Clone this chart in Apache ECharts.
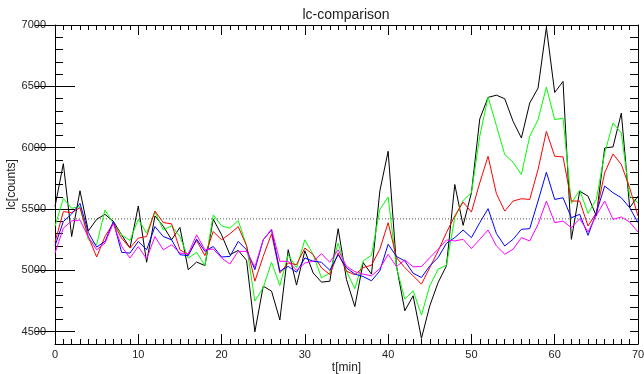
<!DOCTYPE html>
<html><head><meta charset="utf-8">
<script src="https://cdn.jsdelivr.net/npm/echarts@6/dist/echarts.min.js"></script>
<style>html,body{margin:0;padding:0;background:#fff}#c{width:644px;height:374px}</style>
</head><body><div id="c"></div>
<script>
const times = [0,1,2,3,4,5,6,7,8,9,10,11,12,13,14,15,16,17,18,19,20,21,22,23,24,25,26,27,28,29,30,31,32,33,34,35,36,37,38,39,40,41,42,43,44,45,46,47,48,49,50,51,52,53,54,55,56,57,58,59,60,61,62,63,64,65,66,67,68,69,70];
const blackSeries = [5520,5870,5276,5649,5321,5416,5457,5400,5290,5182,5525,5066,5444,5360,5250,5350,5006,5068,5039,5417,5290,5128,5163,5082,4499,4871,4831,4596,5168,4880,5160,4979,4904,4912,5340,4925,4705,5064,4969,5646,5971,5037,4671,4793,4446,4712,4901,5037,5700,5367,5633,6234,6410,6428,6399,6215,6079,6364,6486,6980,6450,6540,5253,5646,5605,5443,5998,6006,6282,5511,5605];
const greenSeries = [5360,5587,5506,5520,5249,5209,5492,5384,5290,5244,5417,5303,5479,5330,5363,5276,5100,5147,5039,5452,5363,5344,5406,5201,4750,4858,5066,4877,5128,5020,5249,5128,4939,4979,5222,4993,4850,5077,5123,5497,5597,5023,4766,4834,4636,4874,5010,5042,5429,5570,5633,6093,6412,6180,5944,5882,5781,6093,6228,6494,6228,6242,5546,5654,5465,5578,5957,6201,6120,5605,5551];
const redSeries = [5230,5479,5471,5511,5276,5109,5276,5384,5263,5182,5263,5276,5484,5390,5379,5168,5128,5244,5120,5317,5249,5298,5357,5201,4912,5114,5298,4979,5060,5047,5182,5128,5020,4966,5141,4993,4965,5023,5042,5172,5389,5104,5023,4956,4888,5023,5159,5308,5443,5557,5475,5714,5930,5625,5483,5565,5584,5578,5822,6133,5930,5925,5565,5565,5362,5470,5795,5949,5863,5673,5443];
const blueSeries = [5200,5398,5460,5546,5309,5190,5236,5398,5147,5141,5236,5168,5357,5276,5249,5128,5120,5255,5155,5195,5109,5114,5236,5168,5006,5249,5330,4993,5033,4985,5101,5074,5066,5001,5128,5020,4970,4950,4915,4996,5213,5113,5077,4977,4942,5037,5104,5221,5267,5329,5267,5389,5503,5300,5199,5253,5335,5340,5565,5800,5578,5592,5429,5457,5286,5470,5687,5633,5592,5511,5389];
const magentaSeries = [5140,5344,5403,5411,5271,5168,5222,5384,5195,5101,5195,5093,5276,5168,5209,5141,5136,5290,5168,5174,5101,5052,5155,5155,5028,5249,5336,5074,5074,5001,5060,5074,5136,5066,5168,5033,4990,4969,4956,5015,5131,5031,5085,5029,5031,5104,5172,5248,5240,5253,5178,5253,5329,5199,5132,5172,5267,5240,5375,5565,5389,5402,5348,5421,5313,5449,5565,5416,5435,5394,5313];
const refLevel = 5420;
const xRange = [0, 70];
const yRange = [4400, 7000];
const yMajorTicks = [4500,5000,5500,6000,6500,7000];

const FONT = 'Liberation Sans, Arial, Helvetica, sans-serif';
const chart = echarts.init(document.getElementById('c'), null, {renderer:'canvas'});
const pair = arr => times.map((t,i)=>[t, arr[i]]);
const mk = (name, arr, color) => ({name, type:'line', data: pair(arr), symbol:'none', showSymbol:false,
  lineStyle:{color, width:1}, itemStyle:{color}, xAxisIndex:0, yAxisIndex:0, z:3, silent:true});

const blk = '#000';
const xBase = (pos, labels) => ({
  type:'value', position:pos, min:xRange[0], max:xRange[1], interval:10,
  axisLine:{show:true, onZero:false, lineStyle:{color:blk, width:1}},
  axisTick:{show:true, inside:true, length:10, lineStyle:{color:blk}},
  minorTick:{show:true, splitNumber:10, length:5, lineStyle:{color:blk}},
  splitLine:{show:false}, minorSplitLine:{show:false},
  axisLabel:{show:labels, color:'#222', fontSize:11, fontFamily:FONT, margin:5, formatter: v => String(v)},
  name: labels ? 't[min]' : '', nameLocation:'middle', nameGap:18, nameMoveOverlap:false,
  nameTextStyle:{color:'#222', fontSize:12, fontFamily:FONT}
});
const yMinor = (pos, labels) => ({
  type:'value', position:pos, min:yRange[0], max:yRange[1], interval:100,
  axisLine:{show:true, onZero:false, lineStyle:{color:blk, width:1}},
  axisTick:{show:true, inside:true, length:8, lineStyle:{color:blk}},
  splitLine:{show:false},
  axisLabel:{show:labels, customValues: yMajorTicks, color:'#222', fontSize:11, fontFamily:FONT, margin:9, formatter: v => String(v)},
  name: labels ? 'lc[counts]' : '', nameLocation:'middle', nameGap:37, nameMoveOverlap:false,
  nameTextStyle:{color:'#222', fontSize:12, fontFamily:FONT}
});
const yMajor = (pos) => ({
  type:'value', position:pos, min:yRange[0], max:yRange[1], offset:0,
  axisLine:{show:false},
  axisTick:{show:true, inside:true, length:20, customValues: yMajorTicks, lineStyle:{color:blk}},
  splitLine:{show:false}, axisLabel:{show:false}
});

chart.setOption({
  animation:false,
  backgroundColor:'#fff',
  title:{text:'lc-comparison', left:341, top:3, textAlign:'center',
    textStyle:{color:'#222', fontSize:14, fontWeight:'normal', fontFamily:FONT}},
  grid:{left:55, right:6, top:25, bottom:30, containLabel:false, outerBoundsMode:'none'},
  xAxis:[xBase('bottom', true), xBase('top', false)],
  yAxis:[yMinor('left', true), yMajor('left'), yMinor('right', false), yMajor('right')],
  series:[
    {name:'ref', type:'line', data:[[xRange[0], refLevel],[xRange[1], refLevel]], symbol:'none',
      lineStyle:{color:'#555', width:1, type:[1,2]}, z:2, silent:true},
    mk('black', blackSeries, '#000000'),
    mk('green', greenSeries, '#00ff00'),
    mk('red', redSeries, '#ff0000'),
    mk('blue', blueSeries, '#0000ff'),
    mk('magenta', magentaSeries, '#ff00ff')
  ]
});
</script></body></html>
